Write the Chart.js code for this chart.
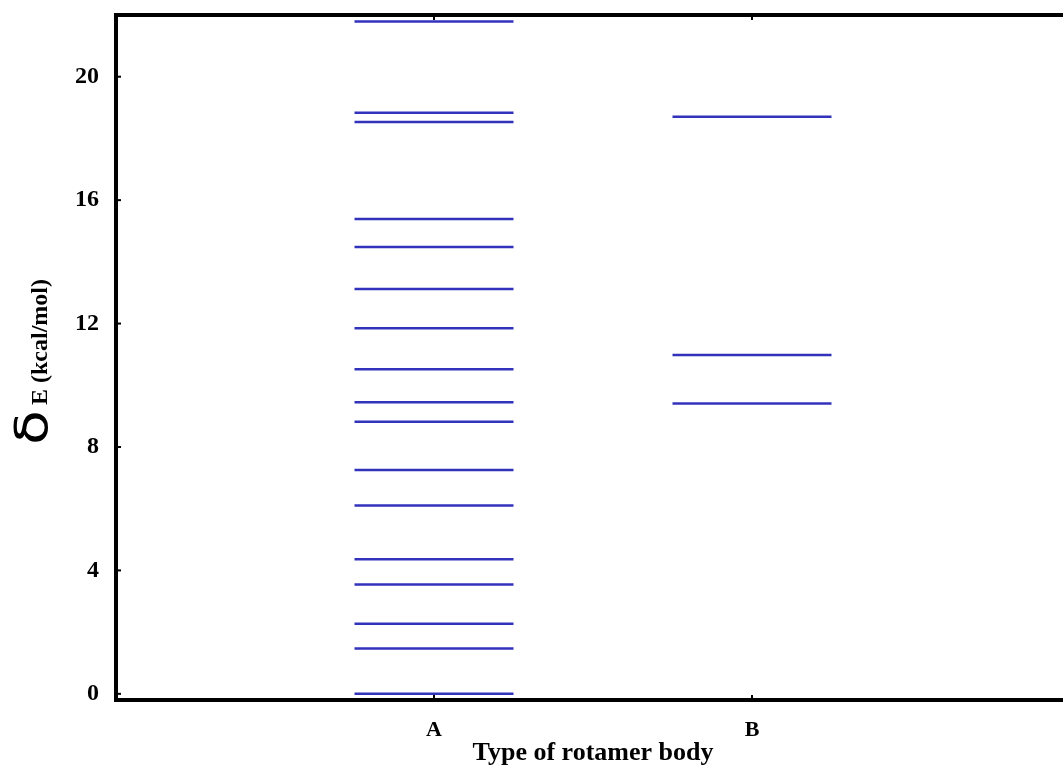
<!DOCTYPE html>
<html>
<head>
<meta charset="utf-8">
<script src="https://cdn.jsdelivr.net/npm/chart.js@4/dist/chart.umd.min.js"></script>
<style>
  html, body { margin: 0; padding: 0; background: #fff; overflow: hidden; }
  #wrap { position: absolute; left: 0; top: 0; width: 1075px; height: 769px; }
</style>
</head>
<body>
<div id="wrap"><canvas id="c" width="1075" height="769"></canvas></div>
<script>
// Rotamer body types and their relative energy levels (kcal/mol)
const categories = ['A', 'B'];
const levelsA = [21.79, 18.83, 18.53, 15.39, 14.48, 13.12, 11.85, 10.52, 9.45, 8.82, 7.25, 6.10, 4.36, 3.54, 2.27, 1.47, 0.0];
const levelsB = [18.70, 10.98, 9.41];
const yTickValues = [0, 4, 8, 12, 16, 20];

const levelsByCategory = [levelsA, levelsB];
const HALF_WIDTH = 0.25;          // half length of each level segment, in category units
const LINE_COLOR = '#3232bc';
const SERIF = '"Liberation Serif", "Times New Roman", serif';

// one short horizontal segment per energy level
const datasets = [];
levelsByCategory.forEach((levels, i) => {
  const xc = i + 1;
  levels.forEach(v => {
    datasets.push({
      label: categories[i] + ' ' + v,
      data: [{ x: xc - HALF_WIDTH, y: v }, { x: xc + HALF_WIDTH, y: v }],
      borderColor: LINE_COLOR,
      borderWidth: 2.5,
      pointRadius: 0,
      fill: false,
      tension: 0
    });
  });
});

// frame around the plot area with inward tick marks
const framePlugin = {
  id: 'frame',
  afterDatasetsDraw(chart) {
    const { ctx, chartArea: a, scales: { x, y } } = chart;
    ctx.save();
    ctx.strokeStyle = '#000';
    ctx.lineWidth = 2;
    yTickValues.forEach(v => {
      const py = y.getPixelForValue(v);
      ctx.beginPath(); ctx.moveTo(a.left, py); ctx.lineTo(a.left + 5, py); ctx.stroke();
    });
    categories.forEach((c, i) => {
      const px = x.getPixelForValue(i + 1);
      ctx.beginPath(); ctx.moveTo(px, a.bottom); ctx.lineTo(px, a.bottom - 5); ctx.stroke();
      ctx.beginPath(); ctx.moveTo(px, a.top); ctx.lineTo(px, a.top + 5); ctx.stroke();
    });
    ctx.lineWidth = 4;
    ctx.strokeRect(a.left, a.top, a.right - a.left, a.bottom - a.top);
    ctx.restore();
  },
  afterDraw(chart) {
    // y-axis title: large delta followed by "E (kcal/mol)"
    const { ctx } = chart;
    ctx.save();
    ctx.translate(47, 445);
    ctx.rotate(-Math.PI / 2);
    ctx.fillStyle = '#000';
    ctx.textAlign = 'left';
    ctx.textBaseline = 'alphabetic';
    ctx.save();
    ctx.scale(1.3, 1);
    ctx.font = '44px "DejaVu Sans", sans-serif';
    ctx.fillText('δ', 0, 0);
    const w = ctx.measureText('δ').width * 1.3;
    ctx.restore();
    ctx.font = 'bold 24px ' + SERIF;
    ctx.fillText('E (kcal/mol)', w + 5, 0);
    ctx.restore();
  }
};

new Chart(document.getElementById('c'), {
  type: 'line',
  data: { datasets },
  options: {
    responsive: false,
    animation: false,
    devicePixelRatio: 1,
    layout: { padding: { left: 0, top: 15, right: 5, bottom: 0 } },
    plugins: { legend: { display: false }, tooltip: { enabled: false } },
    scales: {
      x: {
        type: 'linear',
        min: 0,
        max: 3,
        grid: { display: false, drawTicks: false },
        border: { display: false },
        afterBuildTicks: s => { s.ticks = categories.map((c, i) => ({ value: i + 1 })); },
        afterFit: s => { s.height = 69; s.paddingLeft = 0; s.paddingRight = 0; },
        ticks: {
          padding: 17,
          color: '#000',
          font: { family: SERIF, size: 22, weight: 'bold' },
          callback: v => categories[v - 1]
        },
        title: {
          display: true,
          text: 'Type of rotamer body',
          color: '#000',
          font: { family: SERIF, size: 26, weight: 'bold' },
          padding: { top: 0, bottom: 0 }
        }
      },
      y: {
        type: 'linear',
        min: -0.2,
        max: 22,
        grid: { display: false, drawTicks: false },
        border: { display: false },
        afterBuildTicks: s => { s.ticks = yTickValues.map(v => ({ value: v })); },
        afterFit: s => { s.width = 116; s.paddingTop = 0; s.paddingBottom = 0; },
        ticks: {
          padding: 17,
          color: '#000',
          font: { family: SERIF, size: 24, weight: 'bold' }
        }
      }
    }
  },
  plugins: [framePlugin]
});
</script>
</body>
</html>
